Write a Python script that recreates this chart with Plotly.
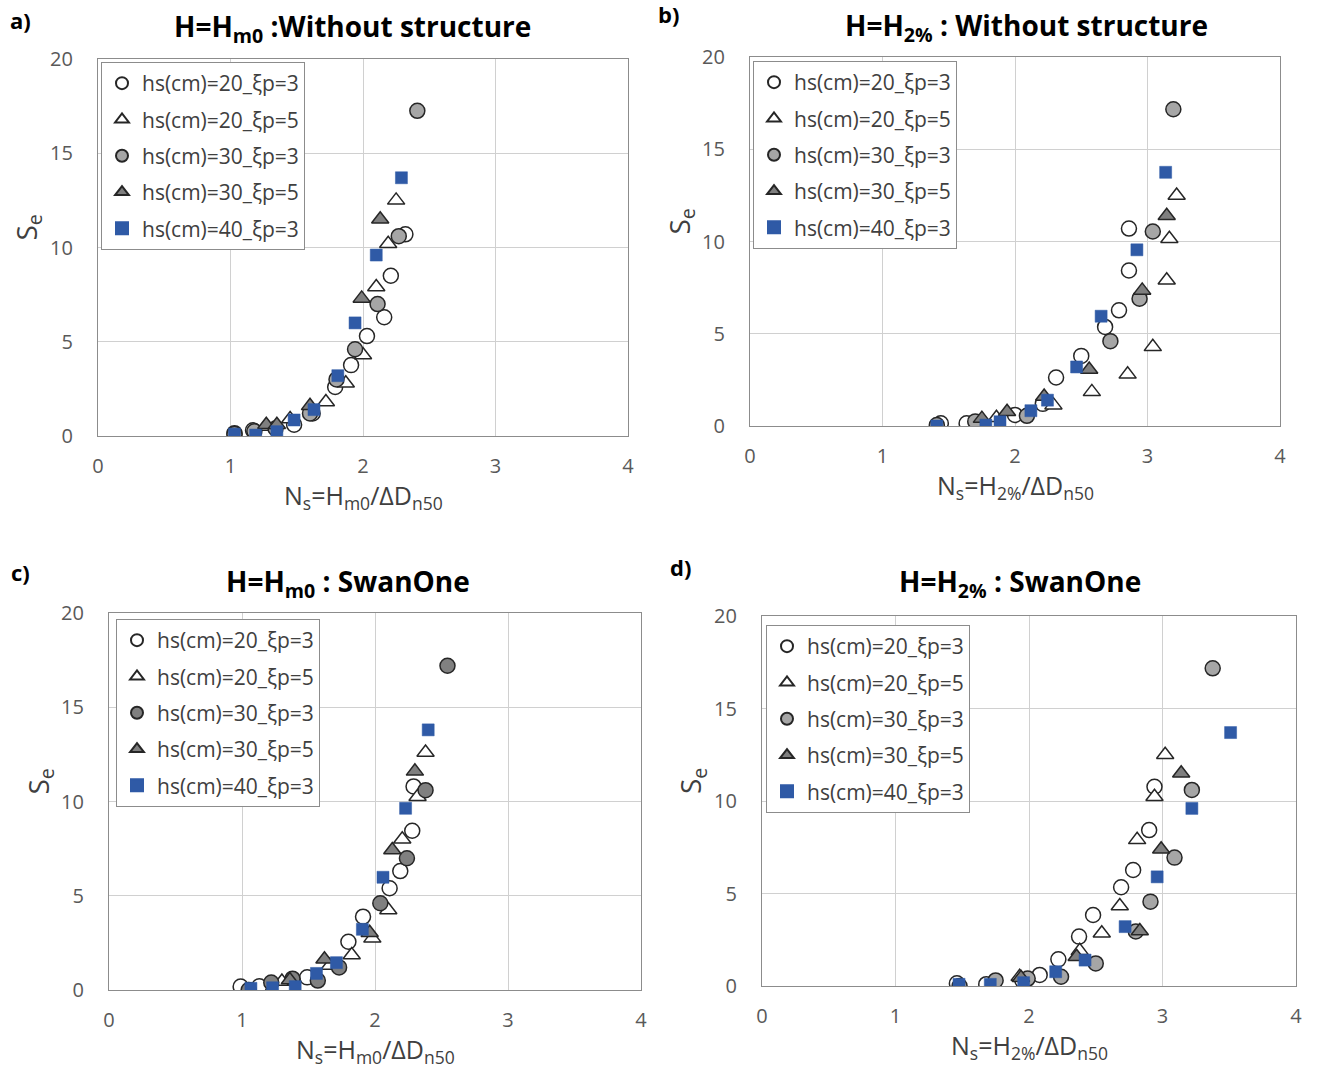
import plotly.graph_objects as go

# ---- series labels ----
series_names = ["hs(cm)=20_ξp=3", "hs(cm)=20_ξp=5", "hs(cm)=30_ξp=3",
                "hs(cm)=30_ξp=5", "hs(cm)=40_ξp=3"]

# ---- panel a: H = Hm0, without structure ----
a_ns_20_3 = [1.03, 1.17, 1.48, 1.62, 1.79, 1.91, 2.03, 2.16, 2.21, 2.32]
a_se_20_3 = [0.15, 0.30, 0.60, 1.20, 2.60, 3.76, 5.30, 6.30, 8.50, 10.70]
a_ns_20_5 = [1.27, 1.45, 1.72, 1.87, 2.00, 2.10, 2.19, 2.25]
a_se_20_5 = [0.50, 0.90, 1.80, 2.80, 4.30, 7.90, 10.20, 12.50]
a_ns_30_3 = [1.03, 1.18, 1.34, 1.60, 1.80, 1.94, 2.11, 2.27, 2.41]
a_se_30_3 = [0.10, 0.25, 0.40, 1.20, 3.00, 4.60, 7.00, 10.60, 17.25]
a_ns_30_5 = [1.27, 1.35, 1.60, 1.99, 2.13]
a_se_30_5 = [0.60, 0.60, 1.60, 7.30, 11.50]
a_ns_40_3 = [1.03, 1.19, 1.35, 1.48, 1.63, 1.81, 1.94, 2.10, 2.29]
a_se_40_3 = [0.10, 0.05, 0.23, 0.85, 1.40, 3.20, 6.00, 9.60, 13.70]

# ---- panel b: H = H2%, without structure ----
b_ns_20_3 = [1.44, 1.635, 2.00, 2.21, 2.31, 2.50, 2.68, 2.785, 2.86, 2.86]
b_se_20_3 = [0.15, 0.15, 0.60, 1.20, 2.63, 3.80, 5.37, 6.27, 8.43, 10.70]
b_ns_20_5 = [1.75, 1.86, 2.29, 2.58, 2.85, 3.04, 3.145, 3.165, 3.22]
b_se_20_5 = [0.30, 0.45, 1.13, 1.85, 2.80, 4.29, 7.90, 10.15, 12.49]
b_ns_30_3 = [1.41, 1.70, 2.09, 2.72, 2.94, 3.04, 3.195]
b_se_30_3 = [0.05, 0.25, 0.55, 4.60, 6.90, 10.54, 17.17]
b_ns_30_5 = [1.75, 1.94, 2.22, 2.56, 2.96, 3.145]
b_se_30_5 = [0.40, 0.77, 1.60, 3.06, 7.35, 11.40]
b_ns_40_3 = [1.41, 1.78, 1.887, 2.12, 2.245, 2.465, 2.65, 2.92, 3.137]
b_se_40_3 = [0.00, 0.05, 0.23, 0.83, 1.40, 3.20, 5.95, 9.55, 13.75]

# ---- panel c: H = Hm0, SwanOne ----
c_ns_20_3 = [0.99, 1.13, 1.49, 1.80, 1.91, 2.11, 2.19, 2.28, 2.29]
c_se_20_3 = [0.18, 0.20, 0.67, 2.56, 3.89, 5.40, 6.31, 8.45, 10.80]
c_ns_20_5 = [1.30, 1.66, 1.825, 1.98, 2.10, 2.205, 2.32, 2.38]
c_se_20_5 = [0.45, 1.30, 1.86, 2.74, 4.24, 8.00, 10.25, 12.60]
c_ns_30_3 = [1.05, 1.22, 1.38, 1.57, 1.73, 2.04, 2.24, 2.38, 2.545]
c_se_30_3 = [0.00, 0.40, 0.60, 0.50, 1.20, 4.60, 6.99, 10.60, 17.20]
c_ns_30_5 = [1.36, 1.62, 1.96, 2.13, 2.30]
c_se_30_5 = [0.53, 1.63, 3.04, 7.43, 11.60]
c_ns_40_3 = [1.067, 1.23, 1.40, 1.56, 1.71, 1.905, 2.06, 2.23, 2.40]
c_se_40_3 = [0.09, 0.12, 0.18, 0.88, 1.45, 3.22, 5.98, 9.64, 13.80]

# ---- panel d: H = H2%, SwanOne ----
d_ns_20_3 = [1.46, 1.68, 1.95, 2.08, 2.22, 2.375, 2.48, 2.69, 2.78, 2.90, 2.94]
d_se_20_3 = [0.15, 0.10, 0.30, 0.60, 1.44, 2.67, 3.84, 5.34, 6.27, 8.43, 10.77]
d_ns_20_5 = [1.93, 2.38, 2.545, 2.68, 2.81, 2.94, 3.02]
d_se_20_5 = [0.50, 1.90, 2.85, 4.32, 7.90, 10.23, 12.50]
d_ns_30_3 = [1.48, 1.75, 1.99, 2.24, 2.50, 2.80, 2.91, 3.09, 3.22, 3.376]
d_se_30_3 = [0.00, 0.30, 0.40, 0.50, 1.22, 2.95, 4.56, 6.94, 10.60, 17.17]
d_ns_30_5 = [1.94, 2.357, 2.83, 2.99, 3.14]
d_se_30_5 = [0.45, 1.58, 2.97, 7.39, 11.50]
d_ns_40_3 = [1.476, 1.71, 1.96, 2.20, 2.42, 2.72, 2.96, 3.22, 3.51]
d_se_40_3 = [0.09, 0.09, 0.18, 0.77, 1.40, 3.21, 5.90, 9.60, 13.70]

x_ticks = [0, 1, 2, 3, 4]
y_ticks = [0, 5, 10, 15, 20]

W, H = 1317, 1073
FONT = "Open Sans"
EDGE = "#262626"
BLUE = "#2f5aa6"


def px_x(v):
    return v / W


def px_y(v):
    return 1 - v / H


# panel frames in pixels: left, top, right, bottom
panels = [
    dict(key="a", box=(98, 59, 628, 436), legend=(101, 62), gray_c="#a6a6a6",
         data=[(a_ns_20_3, a_se_20_3), (a_ns_20_5, a_se_20_5), (a_ns_30_3, a_se_30_3),
               (a_ns_30_5, a_se_30_5), (a_ns_40_3, a_se_40_3)],
         title="H=H<sub>m0</sub> :Without structure", title_pos=(352, 28),
         letter=(20, 20), xtitle="N<sub>s</sub>=H<sub>m0</sub>/ΔD<sub>n50</sub>"),
    dict(key="b", box=(750, 57, 1280, 426), legend=(753, 61), gray_c="#a6a6a6",
         data=[(b_ns_20_3, b_se_20_3), (b_ns_20_5, b_se_20_5), (b_ns_30_3, b_se_30_3),
               (b_ns_30_5, b_se_30_5), (b_ns_40_3, b_se_40_3)],
         title="H=H<sub>2%</sub> : Without structure", title_pos=(1026, 27),
         letter=(668, 14), xtitle="N<sub>s</sub>=H<sub>2%</sub>/ΔD<sub>n50</sub>"),
    dict(key="c", box=(109, 613, 641, 990), legend=(116, 619), gray_c="#808080",
         data=[(c_ns_20_3, c_se_20_3), (c_ns_20_5, c_se_20_5), (c_ns_30_3, c_se_30_3),
               (c_ns_30_5, c_se_30_5), (c_ns_40_3, c_se_40_3)],
         title="H=H<sub>m0</sub> : SwanOne", title_pos=(348, 583),
         letter=(20, 572), xtitle="N<sub>s</sub>=H<sub>m0</sub>/ΔD<sub>n50</sub>"),
    dict(key="d", box=(762, 616, 1296, 986), legend=(766, 625), gray_c="#a6a6a6",
         data=[(d_ns_20_3, d_se_20_3), (d_ns_20_5, d_se_20_5), (d_ns_30_3, d_se_30_3),
               (d_ns_30_5, d_se_30_5), (d_ns_40_3, d_se_40_3)],
         title="H=H<sub>2%</sub> : SwanOne", title_pos=(1020, 583),
         letter=(680, 567), xtitle="N<sub>s</sub>=H<sub>2%</sub>/ΔD<sub>n50</sub>"),
]

fig = go.Figure()
annotations = []
layout = {}

for i, p in enumerate(panels):
    n = "" if i == 0 else str(i + 1)
    xa, ya = "x" + n, "y" + n
    leg = "legend" + n
    l, t, r, b = p["box"]

    styles = [
        dict(symbol="circle", size=15, color="white", line=dict(color=EDGE, width=1.5)),
        dict(symbol="triangle-up", size=15, color="white", line=dict(color=EDGE, width=1.5)),
        dict(symbol="circle", size=15, color=p["gray_c"], line=dict(color=EDGE, width=1.5)),
        dict(symbol="triangle-up", size=15, color="#7f7f7f", line=dict(color=EDGE, width=1.5)),
        dict(symbol="square", size=12, color=BLUE, line=dict(color=BLUE, width=0.5)),
    ]
    for k, ((xs, ys), st, name) in enumerate(zip(p["data"], styles, series_names)):
        fig.add_trace(go.Scatter(
            x=xs, y=ys, mode="markers", name=name, marker=st,
            xaxis=xa, yaxis=ya, legend=leg, legendgroup=f"{p['key']}{k}",
        ))

    layout["xaxis" + n] = dict(
        domain=[px_x(l), px_x(r)], anchor=ya, range=[0, 4], tickvals=x_ticks,
        showgrid=True, gridcolor="#d0d0d0", gridwidth=1, zeroline=False,
        showline=True, linecolor="#8c8c8c", linewidth=1.2, mirror=True,
        ticks="", ticklabelstandoff=12, automargin=False,
        tickfont=dict(family=FONT, size=20, color="#595959"),
    )
    layout["yaxis" + n] = dict(
        domain=[px_y(b), px_y(t)], anchor=xa, range=[0, 20], tickvals=y_ticks,
        showgrid=True, gridcolor="#d0d0d0", gridwidth=1, zeroline=False,
        showline=True, linecolor="#8c8c8c", linewidth=1.2, mirror=True,
        ticks="", ticklabelstandoff=20, automargin=False,
        tickfont=dict(family=FONT, size=20, color="#595959"),
    )
    layout[leg] = dict(
        x=px_x(p["legend"][0]), y=px_y(p["legend"][1]), xanchor="left", yanchor="top",
        bgcolor="white", bordercolor="#8c8c8c", borderwidth=1,
        font=dict(family=FONT, size=21, color="#404040"),
        itemsizing="constant", tracegroupgap=6, itemclick=False,
    )

    # panel title, letter, axis titles
    annotations.append(dict(
        text=f"<b>{p['title']}</b>", x=px_x(p["title_pos"][0]), y=px_y(p["title_pos"][1]),
        xref="paper", yref="paper", showarrow=False, xanchor="center", yanchor="middle",
        font=dict(family=FONT, size=28, color="black"),
    ))
    annotations.append(dict(
        text=f"<b>{p['key']})</b>", x=px_x(p["letter"][0]), y=px_y(p["letter"][1]),
        xref="paper", yref="paper", showarrow=False, xanchor="center", yanchor="middle",
        font=dict(family=FONT, size=22, color="black"),
    ))
    annotations.append(dict(
        text=p["xtitle"], x=px_x((l + r) / 2), y=px_y(b + 60),
        xref="paper", yref="paper", showarrow=False, xanchor="center", yanchor="middle",
        font=dict(family=FONT, size=25, color="#404040"),
    ))
    annotations.append(dict(
        text="S<sub>e</sub>", x=px_x(l - 70), y=px_y((t + b) / 2 - 20),
        xref="paper", yref="paper", showarrow=False, xanchor="center", yanchor="middle",
        textangle=-90, font=dict(family=FONT, size=28, color="#404040"),
    ))

fig.update_layout(
    width=W, height=H, margin=dict(l=0, r=0, t=0, b=0, autoexpand=False),
    paper_bgcolor="white", plot_bgcolor="white",
    annotations=annotations, **layout,
)

fig.write_html("out.html")
